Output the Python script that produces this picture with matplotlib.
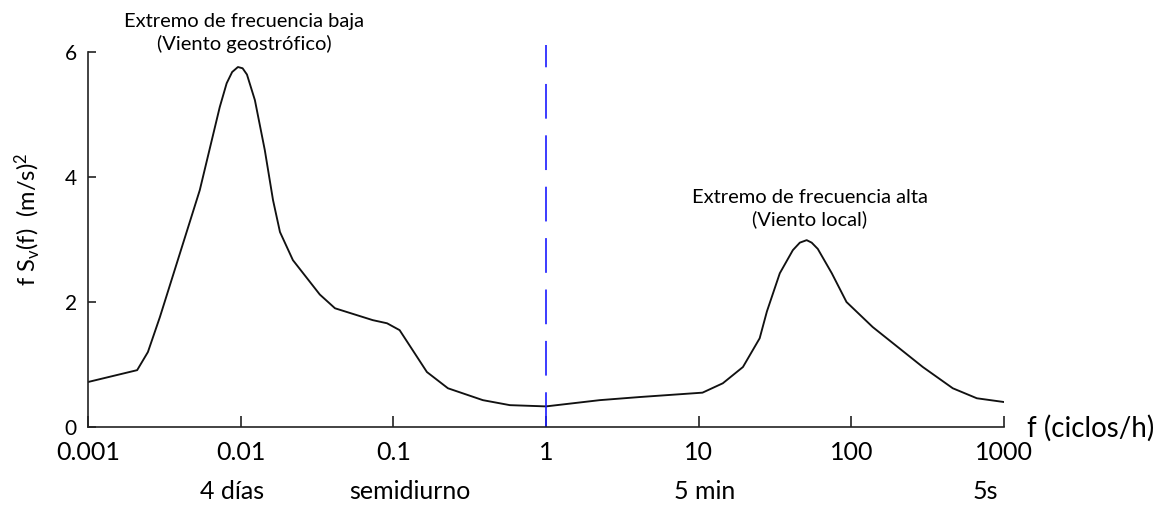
import numpy as np
import matplotlib.pyplot as plt

plt.rcParams['font.family'] = ['Lato', 'DejaVu Sans']
plt.rcParams['mathtext.fontset'] = 'custom'
plt.rcParams['mathtext.rm'] = 'Lato'
plt.rcParams['mathtext.it'] = 'Lato'
plt.rcParams['lines.scale_dashes'] = False

# frequency (ciclos/h) and f*Sv(f)
freq = [0.001, 0.0021, 0.00247, 0.00296, 0.0054, 0.0073, 0.0081, 0.0088, 0.0096, 0.0103,
        0.011, 0.0124, 0.0144, 0.0163, 0.0181, 0.022, 0.033, 0.0415, 0.0734, 0.091, 0.11,
        0.166, 0.228, 0.386, 0.58, 1.0, 2.25, 4.12, 10.6, 14.4, 19.5, 25.1, 28.0,
        34.0, 41.4, 46.0, 51.0, 55.0, 60.3, 74.5, 93.0, 138.0, 294.0, 462.0, 664.0, 1000.0]
power = [0.72, 0.91, 1.2, 1.76, 3.79, 5.12, 5.5, 5.68, 5.76, 5.74,
         5.64, 5.23, 4.43, 3.63, 3.12, 2.67, 2.12, 1.90, 1.71, 1.66, 1.55,
         0.88, 0.62, 0.43, 0.35, 0.33, 0.43, 0.48, 0.55, 0.70, 0.96, 1.42, 1.85,
         2.46, 2.83, 2.95, 2.99, 2.95, 2.85, 2.46, 2.0, 1.6, 0.96, 0.62, 0.46, 0.40]

xticks = [0.001, 0.01, 0.1, 1, 10, 100, 1000]
xtick_labels = ['0.001', '0.01', '0.1', '1', '10', '100', '1000']
yticks = [0, 2, 4, 6]
period_labels = [(0.0088, '4 días'), (0.128, 'semidiurno'), (11.0, '5 min'), (760, '5s')]

fig = plt.figure(figsize=(11.65, 5.08), dpi=100)
ax = fig.add_axes([0.0755, 0.1594, 0.7863, 0.7382])

ax.plot(freq, power, color='#111111', lw=1.35)
ax.plot([1, 1], [0, 6.12], color='#1a1aff', lw=1.2, dashes=(25, 12), clip_on=False)

ax.set_xscale('log')
ax.set_xlim(0.001, 1000)
ax.set_ylim(0, 6)
ax.set_xticks(xticks)
ax.set_xticklabels(xtick_labels, fontsize=18)
ax.minorticks_off()
ax.set_yticks(yticks)
ax.set_yticklabels([str(v) for v in yticks], fontsize=15)

for s in ['top', 'right']:
    ax.spines[s].set_visible(False)
for s in ['left', 'bottom']:
    ax.spines[s].set_linewidth(1.2)
    ax.spines[s].set_color('#222222')
ax.tick_params(axis='x', direction='in', length=8, width=1.2, pad=10, color='#222222')
ax.tick_params(axis='y', direction='in', length=6, width=1.2, pad=8, color='#222222')

ax.set_ylabel('f S$_v$(f)  (m/s)$^2$', fontsize=17)
ax.yaxis.set_label_coords(-0.05, 0.555)

fig.text(1027 / 1165, 1 - 428 / 508, 'f (ciclos/h)', fontsize=20, ha='left', va='center')

for f, lab in period_labels:
    ax.text(f, -0.14, lab, transform=ax.get_xaxis_transform(), fontsize=18,
            ha='center', va='top')

ax.text(0.0105, 6.3, 'Extremo de frecuencia baja\n(Viento geostrófico)', fontsize=14.5,
        ha='center', va='center', linespacing=1.3)
ax.text(53.5, 3.5, 'Extremo de frecuencia alta\n(Viento local)', fontsize=14.5,
        ha='center', va='center', linespacing=1.3)

fig.savefig('out.png', dpi=100)
